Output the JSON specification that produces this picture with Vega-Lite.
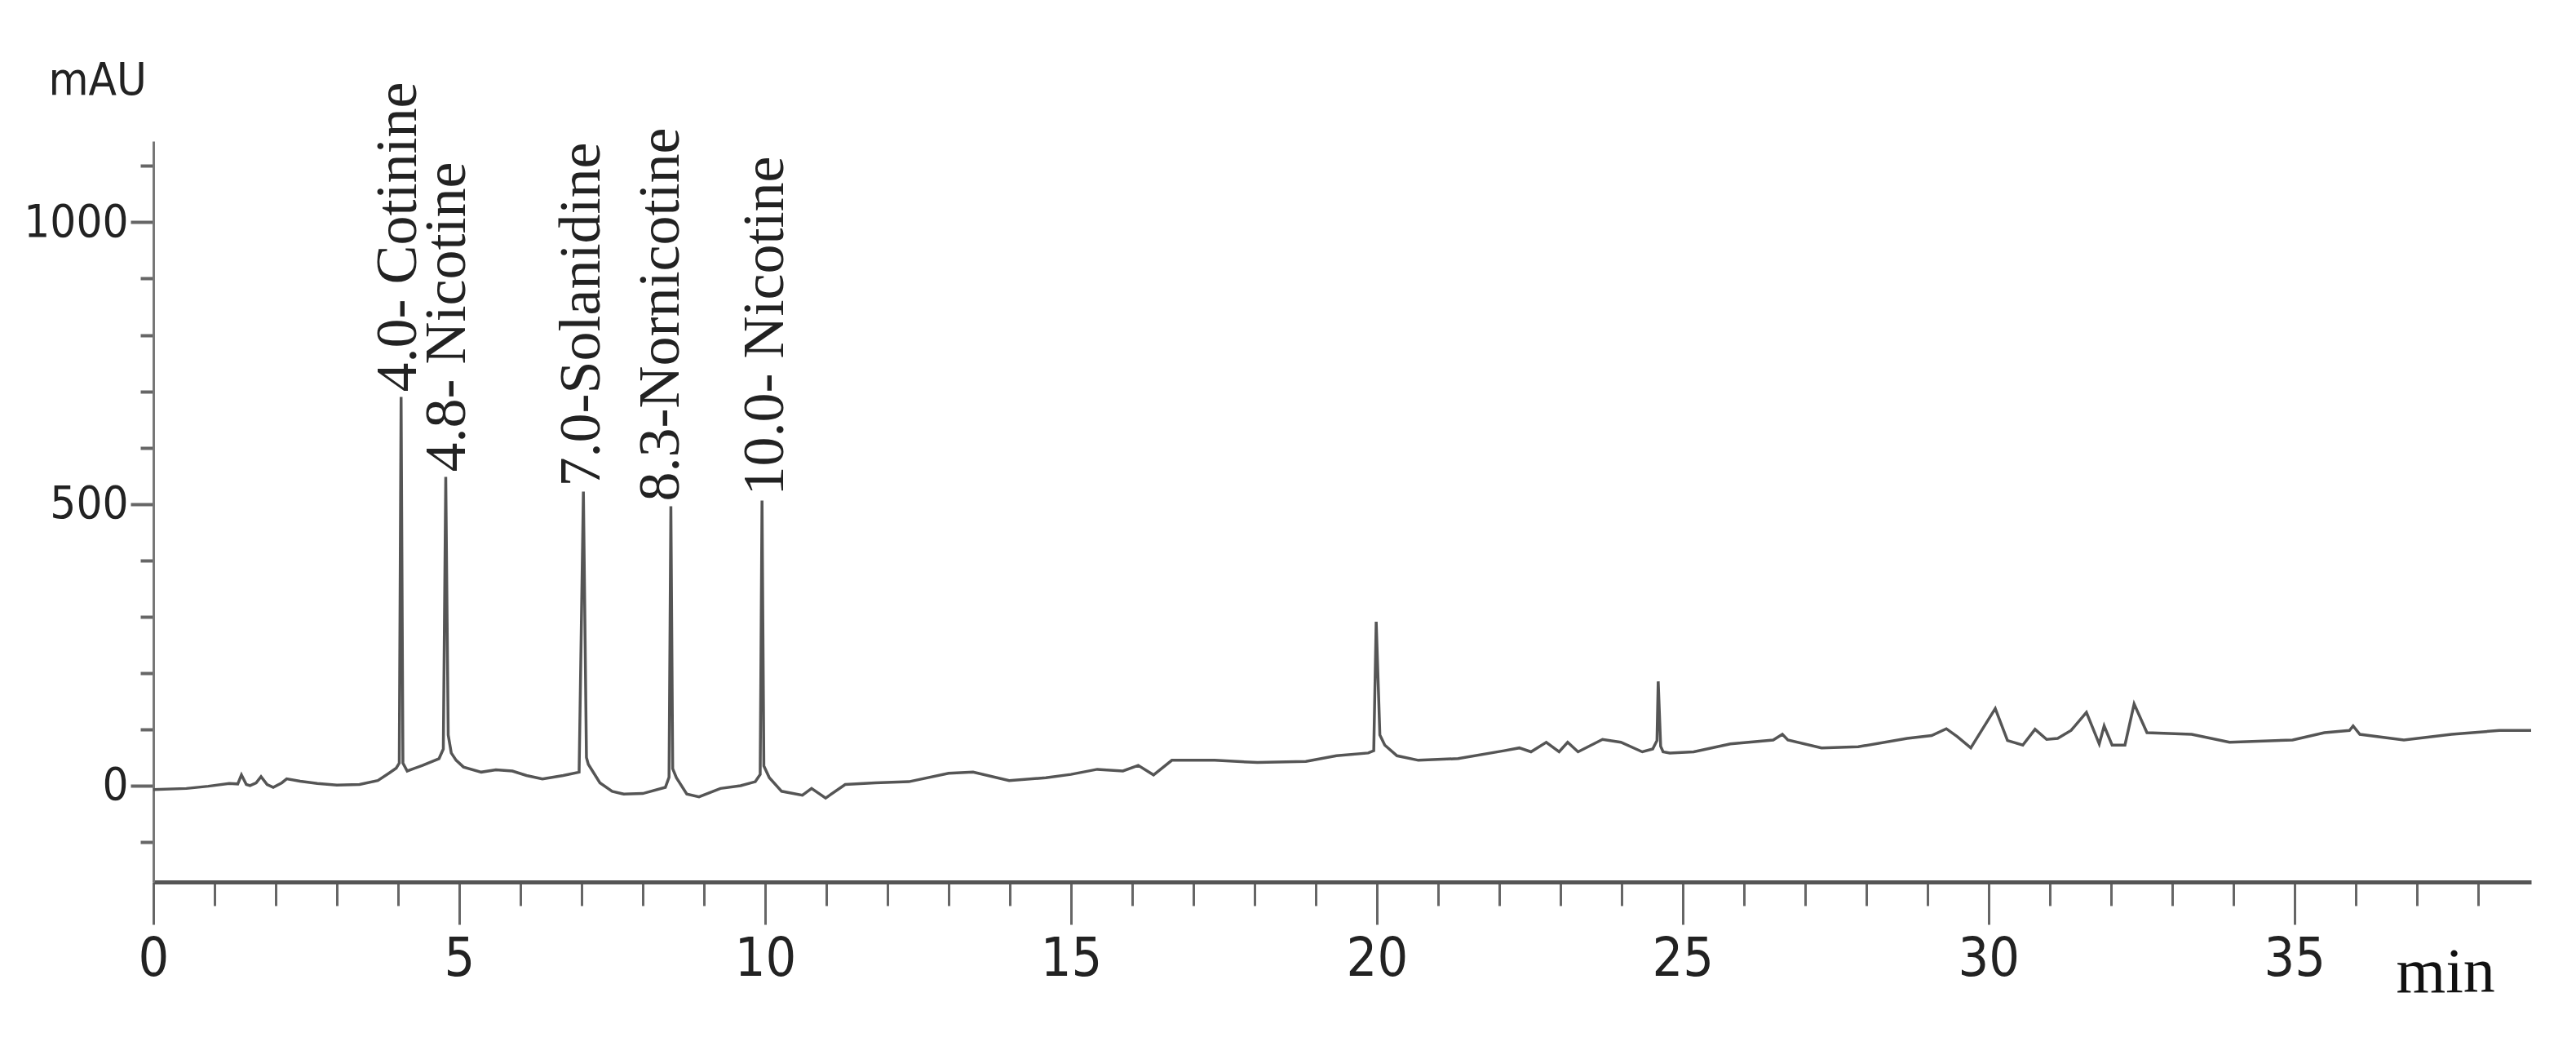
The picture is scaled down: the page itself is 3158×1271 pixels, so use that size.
{
  "$schema": "https://vega.github.io/schema/vega-lite/v6.json",
  "width": 2915,
  "height": 908,
  "autosize": {"type": "none"},
  "padding": {"left": 188, "top": 173, "right": 55, "bottom": 190},
  "background": "white",
  "config": {"view": {"stroke": null}},
  "datasets": {
    "trace": [
      {"t": 0.0, "mAU": -7}, {"t": 0.54, "mAU": -5}, {"t": 0.9, "mAU": -1}, {"t": 1.24, "mAU": 4},
      {"t": 1.38, "mAU": 3}, {"t": 1.44, "mAU": 19}, {"t": 1.52, "mAU": 2}, {"t": 1.58, "mAU": 0},
      {"t": 1.68, "mAU": 5}, {"t": 1.76, "mAU": 16}, {"t": 1.86, "mAU": 2}, {"t": 1.96, "mAU": -3},
      {"t": 2.1, "mAU": 5}, {"t": 2.18, "mAU": 12}, {"t": 2.4, "mAU": 8}, {"t": 2.68, "mAU": 4},
      {"t": 3.0, "mAU": 1}, {"t": 3.37, "mAU": 2}, {"t": 3.67, "mAU": 9}, {"t": 3.85, "mAU": 22},
      {"t": 3.97, "mAU": 31}, {"t": 4.02, "mAU": 40}, {"t": 4.05, "mAU": 690}, {"t": 4.08, "mAU": 40},
      {"t": 4.15, "mAU": 26}, {"t": 4.4, "mAU": 36}, {"t": 4.67, "mAU": 48}, {"t": 4.74, "mAU": 65},
      {"t": 4.78, "mAU": 548}, {"t": 4.82, "mAU": 90}, {"t": 4.87, "mAU": 58}, {"t": 4.95, "mAU": 45},
      {"t": 5.07, "mAU": 33}, {"t": 5.36, "mAU": 24}, {"t": 5.6, "mAU": 28}, {"t": 5.87, "mAU": 26},
      {"t": 6.1, "mAU": 18}, {"t": 6.36, "mAU": 12}, {"t": 6.7, "mAU": 18}, {"t": 6.96, "mAU": 24},
      {"t": 7.03, "mAU": 522}, {"t": 7.08, "mAU": 50}, {"t": 7.11, "mAU": 38}, {"t": 7.3, "mAU": 5},
      {"t": 7.5, "mAU": -10}, {"t": 7.69, "mAU": -15}, {"t": 8.0, "mAU": -14}, {"t": 8.37, "mAU": -3},
      {"t": 8.43, "mAU": 15}, {"t": 8.46, "mAU": 496}, {"t": 8.49, "mAU": 30}, {"t": 8.55, "mAU": 14},
      {"t": 8.72, "mAU": -15}, {"t": 8.92, "mAU": -20}, {"t": 9.27, "mAU": -5}, {"t": 9.6, "mAU": 0},
      {"t": 9.84, "mAU": 7}, {"t": 9.92, "mAU": 20}, {"t": 9.95, "mAU": 506}, {"t": 9.98, "mAU": 35},
      {"t": 10.07, "mAU": 14}, {"t": 10.27, "mAU": -10}, {"t": 10.61, "mAU": -17}, {"t": 10.76, "mAU": -5},
      {"t": 10.99, "mAU": -22}, {"t": 11.31, "mAU": 2}, {"t": 11.8, "mAU": 5}, {"t": 12.35, "mAU": 7},
      {"t": 13.0, "mAU": 22}, {"t": 13.4, "mAU": 24}, {"t": 13.99, "mAU": 9}, {"t": 14.59, "mAU": 14},
      {"t": 15.0, "mAU": 20}, {"t": 15.43, "mAU": 29}, {"t": 15.85, "mAU": 26}, {"t": 16.1, "mAU": 36},
      {"t": 16.35, "mAU": 19}, {"t": 16.65, "mAU": 45}, {"t": 17.35, "mAU": 45}, {"t": 18.05, "mAU": 41},
      {"t": 18.84, "mAU": 43}, {"t": 19.34, "mAU": 53}, {"t": 19.86, "mAU": 58}, {"t": 19.95, "mAU": 62},
      {"t": 19.99, "mAU": 291}, {"t": 20.05, "mAU": 90}, {"t": 20.13, "mAU": 72}, {"t": 20.33, "mAU": 53},
      {"t": 20.68, "mAU": 45}, {"t": 21.33, "mAU": 48}, {"t": 22.08, "mAU": 62}, {"t": 22.33, "mAU": 67},
      {"t": 22.52, "mAU": 60}, {"t": 22.77, "mAU": 77}, {"t": 22.98, "mAU": 60}, {"t": 23.12, "mAU": 77},
      {"t": 23.29, "mAU": 60}, {"t": 23.69, "mAU": 82}, {"t": 23.99, "mAU": 77}, {"t": 24.34, "mAU": 60},
      {"t": 24.51, "mAU": 65}, {"t": 24.58, "mAU": 80}, {"t": 24.6, "mAU": 185}, {"t": 24.64, "mAU": 70},
      {"t": 24.68, "mAU": 60}, {"t": 24.79, "mAU": 58}, {"t": 25.18, "mAU": 60}, {"t": 25.78, "mAU": 74},
      {"t": 26.48, "mAU": 81}, {"t": 26.63, "mAU": 91}, {"t": 26.72, "mAU": 81}, {"t": 27.27, "mAU": 67},
      {"t": 27.87, "mAU": 69}, {"t": 28.67, "mAU": 84}, {"t": 29.07, "mAU": 89}, {"t": 29.31, "mAU": 101},
      {"t": 29.49, "mAU": 87}, {"t": 29.71, "mAU": 67}, {"t": 30.11, "mAU": 137}, {"t": 30.31, "mAU": 80},
      {"t": 30.56, "mAU": 72}, {"t": 30.76, "mAU": 100}, {"t": 30.95, "mAU": 82}, {"t": 31.13, "mAU": 84},
      {"t": 31.35, "mAU": 98}, {"t": 31.6, "mAU": 130}, {"t": 31.81, "mAU": 74}, {"t": 31.89, "mAU": 106},
      {"t": 32.02, "mAU": 72}, {"t": 32.23, "mAU": 72}, {"t": 32.38, "mAU": 145}, {"t": 32.59, "mAU": 94},
      {"t": 33.32, "mAU": 91}, {"t": 33.94, "mAU": 77}, {"t": 34.97, "mAU": 81}, {"t": 35.49, "mAU": 94},
      {"t": 35.9, "mAU": 98}, {"t": 35.96, "mAU": 106}, {"t": 36.07, "mAU": 91}, {"t": 36.79, "mAU": 81},
      {"t": 37.57, "mAU": 91}, {"t": 38.35, "mAU": 98}, {"t": 38.87, "mAU": 98}
    ],
    "peaks": [
      {"rt": 4.0, "top": 690, "label": "4.0- Cotinine"},
      {"rt": 4.8, "top": 548, "label": "4.8- Nicotine"},
      {"rt": 7.0, "top": 522, "label": "7.0-Solanidine"},
      {"rt": 8.3, "top": 496, "label": "8.3-Nornicotine"},
      {"rt": 10.0, "top": 506, "label": "10.0- Nicotine"}
    ]
  },
  "layer": [
    {
      "data": {"name": "trace"},
      "mark": {"type": "line", "color": "#555555", "strokeWidth": 3.5, "interpolate": "linear", "clip": true},
      "encoding": {
        "x": {
          "field": "t", "type": "quantitative",
          "scale": {"domain": [0, 38.87], "nice": false, "zero": false},
          "axis": {
            "values": [0,1,2,3,4,5,6,7,8,9,10,11,12,13,14,15,16,17,18,19,20,21,22,23,24,25,26,27,28,29,30,31,32,33,34,35,36,37,38],
            "format": "d",
            "labelExpr": "datum.value % 5 === 0 ? datum.label : ''",
            "labelFont": "Liberation Sans Narrow, DejaVu Sans Condensed, sans-serif",
            "labelFontSize": 66,
            "labelColor": "#222",
            "labelBaseline": "top",
            "labelPadding": 10,
            "labelOverlap": false,
            "labelFlush": false,
            "labelBound": false,
            "tickSize": {"condition": {"test": "datum.value % 5 === 0", "value": 52}, "value": 29},
            "tickColor": "#666",
            "tickWidth": 3,
            "domainColor": "#555",
            "domainWidth": 5,
            "grid": false,
            "title": "min",
            "titleFont": "Liberation Serif, Times New Roman, serif",
            "titleFontSize": 78,
            "titleFontWeight": "normal",
            "titleColor": "#111",
            "titleX": 2749,
            "titleY": 134,
            "titleAlign": "left",
            "titleBaseline": "alphabetic"
          }
        },
        "y": {
          "field": "mAU", "type": "quantitative",
          "scale": {"domain": [-171, 1144], "nice": false, "zero": false},
          "axis": {
            "values": [-100,0,100,200,300,400,500,600,700,800,900,1000,1100],
            "format": "d",
            "labelExpr": "datum.value % 500 === 0 ? datum.label : ''",
            "labelFont": "Liberation Sans Narrow, DejaVu Sans Condensed, sans-serif",
            "labelFontSize": 56,
            "labelColor": "#222",
            "labelBaseline": "middle",
            "labelPadding": 3,
            "labelOverlap": false,
            "labelFlush": false,
            "labelBound": false,
            "tickSize": {"condition": {"test": "datum.value % 500 === 0", "value": 28}, "value": 16},
            "tickColor": "#666",
            "tickWidth": 4,
            "domainColor": "#777",
            "domainWidth": 3,
            "grid": false,
            "title": "mAU",
            "titleAngle": 0,
            "titleFont": "Liberation Sans Narrow, DejaVu Sans Condensed, sans-serif",
            "titleFontSize": 56,
            "titleFontWeight": "normal",
            "titleColor": "#222",
            "titleX": -129,
            "titleY": -58,
            "titleAlign": "left",
            "titleBaseline": "alphabetic"
          }
        }
      }
    },
    {
      "data": {"name": "peaks"},
      "mark": {"type": "text", "angle": 270, "align": "left", "baseline": "middle", "dx": 6,
               "font": "Liberation Serif, Times New Roman, serif", "fontSize": 72, "color": "#222"},
      "encoding": {
        "x": {"field": "rt", "type": "quantitative"},
        "y": {"field": "top", "type": "quantitative"},
        "text": {"field": "label"}
      }
    }
  ]
}
